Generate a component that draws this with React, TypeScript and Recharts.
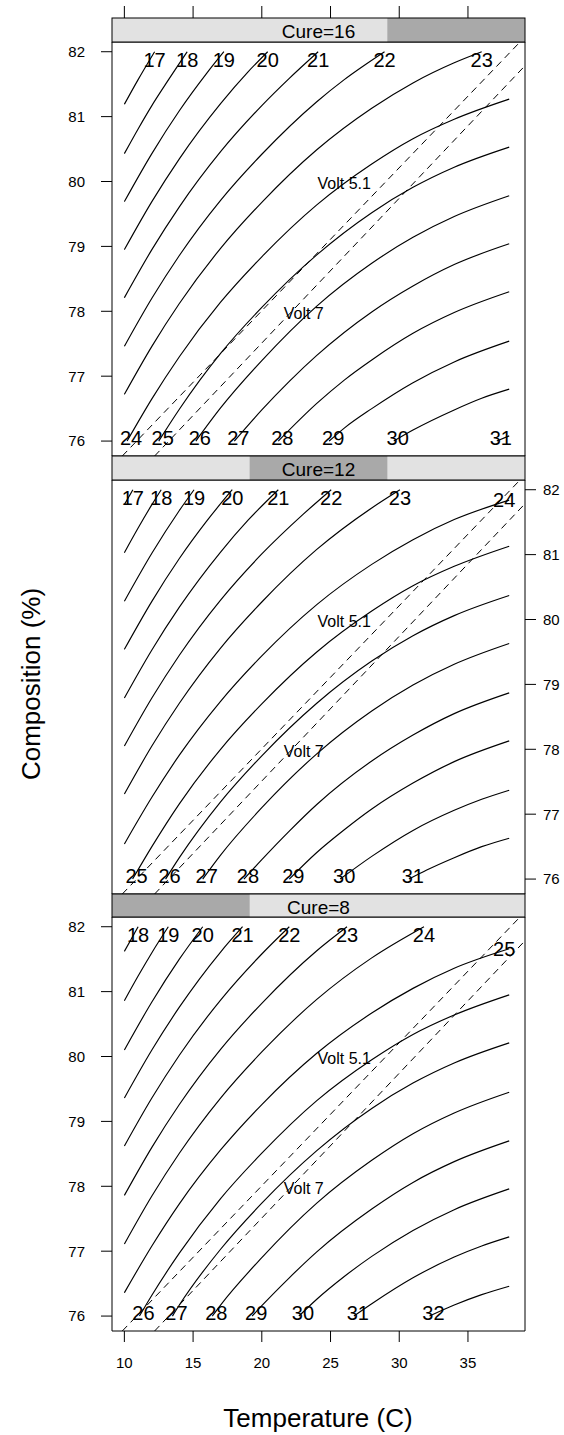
import React from 'react';
import { ComposedChart, Line, Scatter, XAxis, YAxis } from 'recharts';

type Curve = { level: number; pts: number[][] };

const FONT = '"Liberation Sans", Arial, Helvetica, sans-serif';

const tempTicks = [10, 15, 20, 25, 30, 35];
const compTicks = [76, 77, 78, 79, 80, 81, 82];
const tempDomain: [number, number] = [9.1, 39.15];
const compDomain: [number, number] = [75.77, 82.15];

// shingle levels of Cure, lowest first
const cureLevels = [8, 12, 16];

// dashed Volt contours, same in all three panels
const voltUpper = [[9.85, 75.77], [38.65, 82.12]];
const voltLower = [[12.2, 75.77], [39.13, 81.78]];
const voltLabels = [
  { text: 'Volt 5.1', x: 26.0, y: 79.98 },
  { text: 'Volt 7', x: 23.05, y: 77.98 },
];

// contours [temperature, composition]
const cure16Curves: Curve[] = [
  { level: 17, pts: [[10, 81.19], [11, 81.57], [12.2, 82]] },
  { level: 18, pts: [[10, 80.43], [11, 80.81], [12, 81.17], [13, 81.5], [14.57, 82]] },
  { level: 19, pts: [[10, 79.69], [12, 80.43], [14, 81.09], [16, 81.67], [17.24, 82]] },
  { level: 20, pts: [[10, 78.95], [12, 79.69], [14, 80.35], [17, 81.2], [19, 81.69], [20.43, 82]] },
  { level: 21, pts: [[10, 78.21], [12, 78.95], [14, 79.61], [17, 80.46], [20, 81.17], [22, 81.59], [24.1, 82]] },
  { level: 22, pts: [[10, 77.46], [12, 78.2], [14, 78.86], [17, 79.71], [20, 80.42], [24, 81.23], [26, 81.57], [28.93, 82]] },
  { level: 23, pts: [[10, 76.72], [12, 77.46], [14, 78.12], [17, 78.97], [20, 79.68], [24, 80.49], [28, 81.13], [31, 81.52], [34, 81.83], [36, 82]] },
  { level: 24, pts: [[10.2, 76], [12, 76.65], [14, 77.3], [17, 78.14], [20, 78.84], [24, 79.64], [28, 80.27], [31, 80.66], [34, 80.96], [38, 81.27]] },
  { level: 25, pts: [[12.5, 76], [14, 76.49], [17, 77.35], [20, 78.06], [24, 78.87], [28, 79.52], [31, 79.91], [34, 80.22], [38, 80.53]] },
  { level: 26, pts: [[15.2, 76], [17, 76.51], [20, 77.24], [24, 78.08], [28, 78.74], [31, 79.14], [34, 79.46], [38, 79.78]] },
  { level: 27, pts: [[18, 76], [20, 76.48], [22, 76.92], [24, 77.32], [28, 77.99], [31, 78.39], [34, 78.72], [38, 79.04]] },
  { level: 28, pts: [[21.2, 76], [24, 76.58], [26, 76.94], [28, 77.25], [31, 77.66], [34, 77.98], [38, 78.3]] },
  { level: 29, pts: [[24.9, 76], [26, 76.2], [28, 76.5], [31, 76.9], [34, 77.22], [38, 77.54]] },
  { level: 30, pts: [[29.6, 76], [31, 76.17], [34, 76.48], [36, 76.66], [38, 76.8]] },
  { level: 31, pts: [[37.1, 76], [38, 76.08]] },
];

const cure12Curves: Curve[] = [
  { level: 17, pts: [[10, 81.77], [10.62, 82]] },
  { level: 18, pts: [[10, 81.03], [11, 81.41], [12, 81.77], [12.68, 82]] },
  { level: 19, pts: [[10, 80.28], [12, 81.02], [14, 81.68], [15.07, 82]] },
  { level: 20, pts: [[10, 79.54], [12, 80.28], [14, 80.94], [16, 81.52], [17.85, 82]] },
  { level: 21, pts: [[10, 78.79], [12, 79.53], [14, 80.19], [17, 81.04], [19, 81.53], [21.2, 82]] },
  { level: 22, pts: [[10, 78.05], [12, 78.79], [14, 79.45], [17, 80.3], [20, 81.01], [23, 81.62], [25.05, 82]] },
  { level: 23, pts: [[10, 77.31], [12, 78.05], [14, 78.71], [17, 79.56], [20, 80.27], [24, 81.08], [28, 81.72], [30.05, 82]] },
  { level: 24, pts: [[10, 76.54], [12, 77.26], [14, 77.91], [17, 78.74], [20, 79.44], [24, 80.23], [28, 80.85], [31, 81.23], [34, 81.54], [38, 81.84]] },
  { level: 25, pts: [[10.6, 76], [12, 76.5], [14, 77.16], [17, 78.0], [20, 78.7], [24, 79.5], [28, 80.13], [31, 80.52], [34, 80.82], [38, 81.13]] },
  { level: 26, pts: [[13, 76], [14, 76.33], [17, 77.19], [20, 77.9], [24, 78.71], [28, 79.36], [31, 79.75], [34, 80.06], [38, 80.37]] },
  { level: 27, pts: [[15.7, 76], [17, 76.37], [20, 77.1], [24, 77.93], [28, 78.59], [31, 78.99], [34, 79.31], [38, 79.63]] },
  { level: 28, pts: [[18.7, 76], [20, 76.3], [22, 76.74], [24, 77.15], [28, 77.82], [31, 78.22], [34, 78.55], [38, 78.87]] },
  { level: 29, pts: [[22, 76], [24, 76.41], [26, 76.76], [28, 77.08], [31, 77.48], [34, 77.81], [38, 78.13]] },
  { level: 30, pts: [[25.7, 76], [28, 76.35], [31, 76.75], [34, 77.06], [36, 77.23], [38, 77.37]] },
  { level: 31, pts: [[30.7, 76], [32, 76.14], [34, 76.33], [36, 76.5], [38, 76.63]] },
];

const cure8Curves: Curve[] = [
  { level: 18, pts: [[10, 81.62], [11, 82]] },
  { level: 19, pts: [[10, 80.86], [11, 81.24], [12, 81.6], [13.2, 82]] },
  { level: 20, pts: [[10, 80.1], [12, 80.84], [14, 81.5], [15.7, 82]] },
  { level: 21, pts: [[10, 79.36], [12, 80.1], [14, 80.76], [17, 81.61], [18.6, 82]] },
  { level: 22, pts: [[10, 78.62], [12, 79.36], [14, 80.02], [17, 80.87], [20, 81.58], [22, 82]] },
  { level: 23, pts: [[10, 77.86], [12, 78.6], [14, 79.26], [17, 80.11], [20, 80.82], [24, 81.63], [26.2, 82]] },
  { level: 24, pts: [[10, 77.11], [12, 77.85], [14, 78.51], [17, 79.36], [20, 80.07], [24, 80.88], [28, 81.52], [31.8, 82]] },
  { level: 25, pts: [[10, 76.36], [12, 77.08], [14, 77.73], [17, 78.56], [20, 79.26], [24, 80.05], [28, 80.67], [31, 81.05], [34, 81.36], [38, 81.66]] },
  { level: 26, pts: [[11.1, 76], [12, 76.32], [14, 76.97], [17, 77.81], [20, 78.51], [24, 79.32], [28, 79.95], [31, 80.34], [34, 80.64], [38, 80.95]] },
  { level: 27, pts: [[13.5, 76], [14, 76.17], [17, 77.03], [20, 77.74], [24, 78.55], [28, 79.2], [31, 79.59], [34, 79.9], [38, 80.21]] },
  { level: 28, pts: [[16.4, 76], [17, 76.17], [20, 76.9], [24, 77.74], [28, 78.4], [31, 78.81], [34, 79.13], [38, 79.45]] },
  { level: 29, pts: [[19.3, 76], [20, 76.16], [22, 76.59], [24, 76.99], [28, 77.65], [31, 78.06], [34, 78.38], [38, 78.7]] },
  { level: 30, pts: [[22.7, 76], [24, 76.26], [26, 76.61], [28, 76.92], [31, 77.32], [34, 77.64], [38, 77.96]] },
  { level: 31, pts: [[26.7, 76], [28, 76.19], [31, 76.59], [34, 76.91], [36, 77.08], [38, 77.22]] },
  { level: 32, pts: [[32.2, 76], [34, 76.17], [36, 76.33], [38, 76.46]] },
];

const PLOT_LEFT = 112;
const PLOT_W = 413;
const PLOT_H = 414;

const panels = [
  { cure: 16, plotTop: 42, stripTop: 18, stripH: 24, curves: cure16Curves, leftLabels: true, rightLabels: false, bottomLabels: false, topTicks: true },
  { cure: 12, plotTop: 480, stripTop: 456, stripH: 24, curves: cure12Curves, leftLabels: false, rightLabels: true, bottomLabels: false, topTicks: false },
  { cure: 8, plotTop: 917, stripTop: 894, stripH: 23, curves: cure8Curves, leftLabels: true, rightLabels: false, bottomLabels: true, topTicks: false },
];

const rows = (pts: number[][]) => pts.map(([x, y]) => ({ x, y }));

// a contour's label sits on whichever end touches the top or bottom of the grid
function contourLabels(curves: Curve[]) {
  return curves.map((c) => {
    const first = c.pts[0];
    const last = c.pts[c.pts.length - 1];
    const text = String(c.level);
    if (last[1] >= 81.99) return { x: last[0], y: last[1], text, dx: 0, dy: 8 };
    if (first[1] <= 76.01) return { x: first[0], y: first[1], text, dx: 4, dy: -3 };
    return { x: last[0], y: last[1], text, dx: -5, dy: 0 };
  });
}

const ContourText = (props: any) => {
  const { cx, cy, payload } = props;
  return (
    <text x={cx + payload.dx} y={cy + payload.dy + 7} textAnchor="middle" fontSize={20} fontFamily={FONT} fill="#000">
      {payload.text}
    </text>
  );
};

const VoltText = (props: any) => {
  const { cx, cy, payload } = props;
  return (
    <text x={cx} y={cy + 6} textAnchor="middle" fontSize={16} fontFamily={FONT} fill="#000">
      {payload.text}
    </text>
  );
};

// ticks above the strip on the top panel
const TopTick = (props: any) => {
  const { x, y } = props;
  return <line x1={x} x2={x} y1={y - 24} y2={y - 36} stroke="#000" strokeWidth={1} />;
};

const tickText = { fill: '#000', fontSize: 15, fontFamily: FONT };

function Panel({ p }: { p: (typeof panels)[number] }) {
  const labels = contourLabels(p.curves);
  return (
    <div style={{ position: 'absolute', left: 0, top: p.plotTop - 42 }}>
      <ComposedChart width={564} height={42 + PLOT_H + 45} margin={{ top: 22, right: 0, bottom: 5, left: 72 }}>
        <XAxis
          xAxisId="b"
          dataKey="x"
          type="number"
          orientation="bottom"
          domain={tempDomain}
          allowDataOverflow
          ticks={tempTicks}
          interval={0}
          height={40}
          stroke="#000"
          tickSize={11}
          tickMargin={15}
          tickLine={p.bottomLabels}
          tick={p.bottomLabels ? tickText : false}
        />
        <XAxis
          xAxisId="t"
          dataKey="x"
          type="number"
          orientation="top"
          domain={tempDomain}
          allowDataOverflow
          ticks={tempTicks}
          interval={0}
          height={20}
          stroke="#000"
          tickSize={0}
          tickMargin={0}
          tickLine={false}
          tick={p.topTicks ? <TopTick /> : false}
        />
        <YAxis
          yAxisId="l"
          dataKey="y"
          type="number"
          orientation="left"
          domain={compDomain}
          allowDataOverflow
          ticks={compTicks}
          interval={0}
          width={40}
          stroke="#000"
          tickSize={11}
          tickMargin={16}
          tick={p.leftLabels ? tickText : false}
        />
        <YAxis
          yAxisId="r"
          dataKey="y"
          type="number"
          orientation="right"
          domain={compDomain}
          allowDataOverflow
          ticks={compTicks}
          interval={0}
          width={39}
          stroke="#000"
          tickSize={11}
          tickMargin={7}
          tick={p.rightLabels ? { ...tickText, textAnchor: 'start' } : false}
        />
        {p.curves.map((c) => (
          <Line
            key={c.level}
            xAxisId="b"
            yAxisId="l"
            data={rows(c.pts)}
            dataKey="y"
            type="monotone"
            stroke="#000"
            strokeWidth={1.15}
            dot={false}
            activeDot={false}
            isAnimationActive={false}
          />
        ))}
        {[voltUpper, voltLower].map((v, i) => (
          <Line
            key={'volt' + i}
            xAxisId="b"
            yAxisId="l"
            data={rows(v)}
            dataKey="y"
            type="linear"
            stroke="#000"
            strokeWidth={1}
            strokeDasharray="7 5"
            dot={false}
            activeDot={false}
            isAnimationActive={false}
          />
        ))}
        <Scatter xAxisId="t" yAxisId="r" data={labels} shape={<ContourText />} isAnimationActive={false} />
        <Scatter xAxisId="t" yAxisId="r" data={voltLabels} shape={<VoltText />} isAnimationActive={false} />
      </ComposedChart>
    </div>
  );
}

function Strip({ p }: { p: (typeof panels)[number] }) {
  const i = cureLevels.indexOf(p.cure);
  const seg = PLOT_W / cureLevels.length;
  return (
    <g>
      <rect x={PLOT_LEFT} y={p.stripTop} width={PLOT_W} height={p.stripH} fill="#e2e2e2" />
      <rect x={PLOT_LEFT + i * seg} y={p.stripTop} width={seg} height={p.stripH} fill="#a9a9a9" />
      <rect x={PLOT_LEFT} y={p.stripTop} width={PLOT_W} height={p.stripH} fill="none" stroke="#000" strokeWidth={1} />
      <text x={PLOT_LEFT + PLOT_W / 2} y={p.stripTop + 19.5} textAnchor="middle" fontSize={19} fontFamily={FONT} fill="#000">
        {`Cure=${p.cure}`}
      </text>
    </g>
  );
}

export default function App() {
  return (
    <div style={{ position: 'absolute', left: 0, top: 0, width: 564, height: 1435, background: '#fff' }}>
      {panels.map((p) => (
        <Panel key={p.cure} p={p} />
      ))}
      <svg width={564} height={1435} style={{ position: 'absolute', left: 0, top: 0, pointerEvents: 'none' }}>
        {panels.map((p) => (
          <Strip key={p.cure} p={p} />
        ))}
        <text x={318} y={1427} textAnchor="middle" fontSize={26} fontFamily={FONT} fill="#000">
          Temperature (C)
        </text>
        <text transform="translate(40,684) rotate(-90)" textAnchor="middle" fontSize={26} fontFamily={FONT} fill="#000">
          Composition (%)
        </text>
      </svg>
    </div>
  );
}
